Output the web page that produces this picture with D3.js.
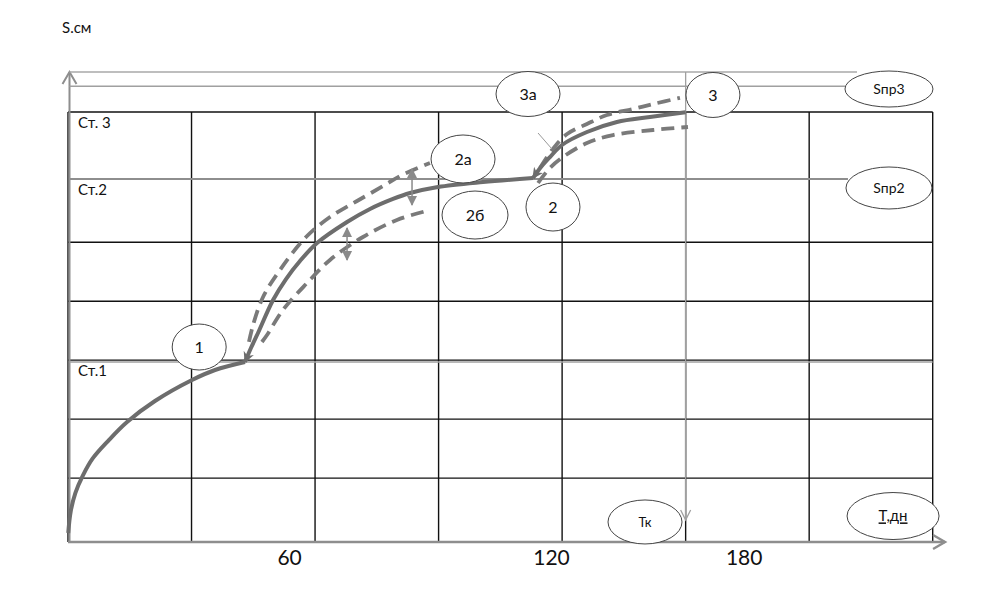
<!DOCTYPE html>
<html><head><meta charset="utf-8">
<script src="https://cdn.jsdelivr.net/npm/d3@7"></script>
<style>
body{margin:0;background:#fff}
svg{display:block}
text{font-family:Lato,"Noto Sans",sans-serif;fill:#111}
</style>
</head><body>
<svg id="c" width="993" height="594"></svg>
<script>
// ---------- data (grid units: columns across, rows up) ----------
const gridColumns = [0, 1, 2, 3, 4, 5, 6, 7];
const gridRows = [1.04, 2.0, 2.96, 3.92, 4.88, 7.0];

const dayTicks = [60, 120, 180];
const dayTickLabels = ["60", "120", "180"];
const dayRefDays = [0, 60, 120, 180];
const dayRefColumns = [0, 1.79, 3.91, 5.47];

const stageLabels = ["Ст.1", "Ст.2", "Ст. 3"];
const stageLevels = [2.93, 5.91, 7.0];

const axisTopLevel = 7.65;
const sLimit3Level = 7.42;
const sLimit2Level = 5.91;
const tkColumn = 5.0;

// main settlement curve, three stages
const mainStage1 = [[0.002,0.147],[0.022,0.50],[0.060,0.80],[0.120,1.08],[0.200,1.36],[0.324,1.644],[0.478,1.953],[0.704,2.295],[1.004,2.637],[1.190,2.800],[1.433,2.930]];
const mainStage2 = [[1.433,2.930],[1.481,3.158],[1.538,3.402],[1.660,3.939],[1.765,4.281],[1.878,4.574],[2.016,4.867],[2.259,5.209],[2.445,5.421],[2.631,5.584],[2.769,5.681],[2.995,5.779],[3.359,5.860],[3.764,5.925]];
const mainStage3 = [[3.764,5.925],[3.829,6.104],[3.902,6.267],[3.999,6.463],[4.201,6.674],[4.444,6.837],[4.711,6.918],[5.0,6.995]];

// dashed variants
const dashed2a = [[1.465,3.256],[1.498,3.532],[1.579,3.988],[1.716,4.428],[1.927,4.965],[2.121,5.291],[2.340,5.551],[2.566,5.812],[2.688,5.958],[2.930,6.170]];
const dashed2b = [[1.570,3.256],[1.611,3.370],[1.740,3.777],[1.935,4.216],[2.121,4.591],[2.388,4.965],[2.663,5.242],[2.930,5.404]];
const dashed3a = [[3.821,6.090],[3.918,6.381],[4.040,6.641],[4.201,6.805],[4.363,6.951],[4.574,7.049],[4.736,7.130],[4.954,7.230]];
const dashed3b = [[3.805,5.844],[3.902,6.090],[4.007,6.267],[4.201,6.495],[4.412,6.625],[4.736,6.707],[5.019,6.756]];

// double arrows between variants
const spreadArrows = [[2.785, 6.072, 5.486], [2.259, 5.111, 4.591]];
const pointer3a = [[3.805, 6.658], [3.918, 6.397]];

// ellipse callouts
const calloutLabels = ["1", "2а", "2б", "2", "3а", "3", "Sпр3", "Sпр2", "Тк", "Т,дн"];
const calloutX = [1.062, 3.198, 3.295, 3.926, 3.724, 5.221, 6.646, 6.646, 4.671, 6.679];
const calloutY = [3.174, 6.235, 5.323, 5.453, 7.293, 7.277, 7.374, 5.763, 0.326, 0.423];

// ---------- styles ----------
const calloutRx = [27, 32, 33, 27, 32, 27, 44, 43, 37, 46];
const calloutRy = [23, 24, 24, 24, 22.5, 22.5, 18, 21, 22, 23.5];
const calloutFont = [16, 16, 16, 16, 16, 16, 14, 14, 13, 15];

const svg = d3.select("#c");
const x = d3.scaleLinear().domain([0, 7]).range([68, 932.7]);
const y = d3.scaleLinear().domain([0, 7]).range([542, 112]);
const dayX = d3.scaleLinear().domain(dayRefDays).range(dayRefColumns.map(x));

const defs = svg.append("defs");
defs.append("marker").attr("id", "headMain").attr("viewBox", "0 0 10 10")
  .attr("refX", 9).attr("refY", 5).attr("markerWidth", 13).attr("markerHeight", 11)
  .attr("markerUnits", "userSpaceOnUse").attr("orient", "auto-start-reverse")
  .append("path").attr("d", "M0,0L10,5L0,10L3,5z").attr("fill", "#6d6d6d");
defs.append("marker").attr("id", "headSmall").attr("viewBox", "0 0 10 10")
  .attr("refX", 9).attr("refY", 5).attr("markerWidth", 10).attr("markerHeight", 11)
  .attr("markerUnits", "userSpaceOnUse").attr("orient", "auto-start-reverse")
  .append("path").attr("d", "M0,0L10,5L0,10z").attr("fill", "#8a8a8a");

// grid
const grid = svg.append("g").attr("stroke", "#111").attr("stroke-width", 1.4);
grid.selectAll("line.v").data(gridColumns).join("line").attr("class", "v")
  .attr("x1", d => x(d)).attr("x2", d => x(d)).attr("y1", y(7)).attr("y2", y(0));
grid.selectAll("line.h").data(gridRows).join("line").attr("class", "h")
  .attr("x1", x(0)).attr("x2", x(7)).attr("y1", d => y(d)).attr("y2", d => y(d));

// gray reference lines
const ref = svg.append("g").attr("stroke", "#8e8e8e").attr("fill", "none");
const ax0 = x(0) + 1.5;
ref.append("line").attr("x1", ax0).attr("x2", ax0).attr("y1", y(0)).attr("y2", y(axisTopLevel)).attr("stroke-width", 2);
ref.append("path").attr("d", `M${ax0-7},${y(axisTopLevel)+12}L${ax0},${y(axisTopLevel)}L${ax0+7},${y(axisTopLevel)+12}`).attr("stroke-width", 2);
ref.append("line").attr("x1", ax0).attr("x2", x(6.387)).attr("y1", y(axisTopLevel)).attr("y2", y(axisTopLevel)).attr("stroke-width", 1.4).attr("stroke", "#a8a8a8");
ref.append("line").attr("x1", ax0).attr("x2", x(6.29)).attr("y1", y(sLimit3Level)).attr("y2", y(sLimit3Level)).attr("stroke-width", 1.4).attr("stroke", "#a0a0a0");
ref.append("line").attr("x1", ax0).attr("x2", x(6.314)).attr("y1", y(sLimit2Level)).attr("y2", y(sLimit2Level)).attr("stroke-width", 2);
ref.append("line").attr("x1", ax0).attr("x2", x(7)).attr("y1", y(stageLevels[0])).attr("y2", y(stageLevels[0])).attr("stroke-width", 1.6).attr("stroke", "#a0a0a0");
ref.append("line").attr("x1", x(0)).attr("x2", x(7.1)).attr("y1", y(0)).attr("y2", y(0)).attr("stroke-width", 2.6);
ref.append("path").attr("d", `M${x(7.1)-12},${y(0)-7}L${x(7.1)},${y(0)}L${x(7.1)-12},${y(0)+7}`).attr("stroke-width", 2.4);
ref.append("line").attr("x1", x(tkColumn)).attr("x2", x(tkColumn)).attr("y1", y(axisTopLevel)).attr("y2", y(0.358)).attr("stroke-width", 1.3).attr("stroke", "#a0a0a0");
ref.append("path").attr("d", `M${x(tkColumn)-5},${y(0.358)-10}L${x(tkColumn)},${y(0.358)}L${x(tkColumn)+5},${y(0.358)-10}`).attr("stroke-width", 1.3).attr("stroke", "#a0a0a0");

// curves
const line = d3.line().x(d => x(d[0])).y(d => y(d[1])).curve(d3.curveCatmullRom.alpha(0.5));
const curves = svg.append("g").attr("fill", "none").attr("stroke-linecap", "butt");
[dashed2a, dashed2b, dashed3a, dashed3b].forEach(p => {
  curves.append("path").attr("d", line(p)).attr("stroke", "#7a7a7a").attr("stroke-width", 3.8).attr("stroke-dasharray", "13,7");
});
curves.append("path").attr("d", line(mainStage1)).attr("stroke", "#6d6d6d").attr("stroke-width", 4);
curves.append("path").attr("d", line(mainStage2)).attr("stroke", "#6d6d6d").attr("stroke-width", 4).attr("marker-start", "url(#headMain)");
curves.append("path").attr("d", line(mainStage3)).attr("stroke", "#6d6d6d").attr("stroke-width", 4).attr("marker-start", "url(#headMain)");

svg.append("g").selectAll("line").data(spreadArrows).join("line")
  .attr("x1", d => x(d[0])).attr("x2", d => x(d[0])).attr("y1", d => y(d[1])).attr("y2", d => y(d[2]))
  .attr("stroke", "#8a8a8a").attr("stroke-width", 1.5)
  .attr("marker-start", "url(#headSmall)").attr("marker-end", "url(#headSmall)");
svg.append("line").attr("x1", x(pointer3a[0][0])).attr("y1", y(pointer3a[0][1]))
  .attr("x2", x(pointer3a[1][0])).attr("y2", y(pointer3a[1][1])).attr("stroke", "#999").attr("stroke-width", 1);

// callouts
const co = svg.append("g").selectAll("g").data(calloutLabels).join("g")
  .attr("transform", (d, i) => `translate(${x(calloutX[i])},${y(calloutY[i])})`);
co.append("ellipse").attr("rx", (d, i) => calloutRx[i]).attr("ry", (d, i) => calloutRy[i])
  .attr("fill", "#fff").attr("stroke", "#444").attr("stroke-width", 1);
co.append("text").attr("text-anchor", "middle").attr("dy", "0.36em")
  .attr("font-size", (d, i) => calloutFont[i])
  .attr("text-decoration", d => d === "Т,дн" ? "underline" : null)
  .text(d => d);

// stage labels
svg.append("g").selectAll("text").data(stageLabels).join("text")
  .attr("x", x(0) + 10).attr("y", (d, i) => y(stageLevels[i]) + (i === 0 ? 14 : 16))
  .attr("font-size", 15).text(d => d);

svg.append("text").attr("x", 62).attr("y", 33).attr("font-size", 15).text("S.см");

// day ticks
const axis = svg.append("g").attr("transform", `translate(0,${y(0)})`)
  .call(d3.axisBottom(dayX).tickValues(dayTicks).tickSize(0).tickFormat((d, i) => dayTickLabels[i]));
axis.select(".domain").remove();
axis.selectAll("text").attr("y", 23).attr("dy", null).attr("font-size", 21)
  .attr("font-family", "Lato,'Noto Sans',sans-serif").attr("fill", "#111");
</script>
</body></html>
